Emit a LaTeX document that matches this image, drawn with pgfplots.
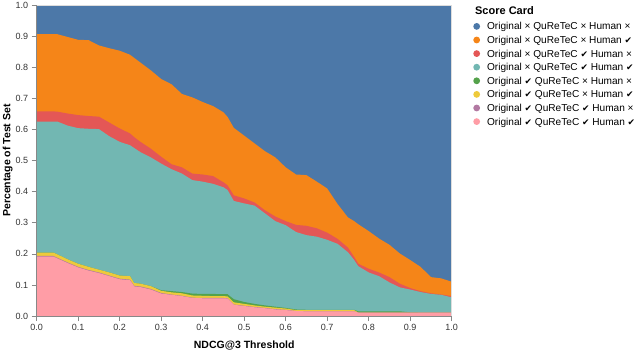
\documentclass[border=0pt]{standalone}
\usepackage{fontspec}
\setmainfont{Liberation Sans}
\newfontfamily\symfont[Scale=0.88]{DejaVu Sans}
\usepackage{pgfplots}
\pgfplotsset{compat=1.18}
\usepackage{pgfplotstable}
\definecolor{cBlue}{HTML}{4C78A8}
\definecolor{cOrange}{HTML}{F58518}
\definecolor{cRed}{HTML}{E45756}
\definecolor{cTeal}{HTML}{72B7B2}
\definecolor{cGreen}{HTML}{54A24B}
\definecolor{cYellow}{HTML}{EECA3B}
\definecolor{cPurple}{HTML}{B279A2}
\definecolor{cPink}{HTML}{FF9DA6}
\definecolor{cBorder}{HTML}{DDDDDD}
\definecolor{cAxis}{HTML}{888888}
\newcommand{\yes}{{\symfont ✔}}
\newcommand{\no}{×}
% cumulative tops of the stacked areas
\pgfplotstableread{
x     O     R     T     G     Y     P     K
0.000 0.906 0.658 0.625 0.204 0.204 0.193 0.191
0.025 0.906 0.658 0.625 0.204 0.204 0.193 0.191
0.040 0.906 0.658 0.625 0.204 0.204 0.193 0.191
0.050 0.906 0.657 0.625 0.198 0.198 0.187 0.185
0.075 0.897 0.651 0.612 0.182 0.182 0.172 0.170
0.100 0.888 0.646 0.604 0.168 0.168 0.158 0.156
0.125 0.887 0.643 0.602 0.158 0.158 0.148 0.146
0.150 0.870 0.641 0.601 0.149 0.149 0.140 0.138
0.175 0.861 0.622 0.578 0.140 0.140 0.130 0.128
0.200 0.853 0.603 0.560 0.130 0.130 0.120 0.118
0.225 0.840 0.587 0.549 0.128 0.128 0.117 0.115
0.235 0.830 0.575 0.540 0.106 0.106 0.097 0.095
0.250 0.815 0.560 0.527 0.104 0.104 0.095 0.093
0.275 0.790 0.538 0.510 0.096 0.096 0.087 0.085
0.300 0.762 0.512 0.490 0.083 0.081 0.074 0.072
0.325 0.745 0.488 0.472 0.080 0.076 0.069 0.068
0.350 0.714 0.478 0.458 0.077 0.073 0.065 0.064
0.375 0.703 0.458 0.437 0.072 0.066 0.059 0.058
0.400 0.688 0.455 0.432 0.071 0.065 0.058 0.057
0.425 0.675 0.450 0.425 0.071 0.064 0.058 0.057
0.450 0.655 0.430 0.414 0.070 0.064 0.058 0.057
0.460 0.640 0.420 0.405 0.070 0.063 0.057 0.056
0.475 0.605 0.388 0.370 0.054 0.044 0.037 0.036
0.500 0.580 0.378 0.362 0.045 0.039 0.033 0.032
0.525 0.555 0.365 0.355 0.039 0.034 0.029 0.028
0.550 0.530 0.340 0.330 0.034 0.030 0.026 0.025
0.575 0.510 0.320 0.305 0.030 0.027 0.022 0.021
0.600 0.478 0.305 0.292 0.026 0.024 0.020 0.019
0.625 0.455 0.293 0.270 0.021 0.019 0.016 0.016
0.650 0.453 0.290 0.260 0.020 0.019 0.015 0.015
0.675 0.432 0.282 0.255 0.020 0.019 0.015 0.015
0.700 0.410 0.268 0.245 0.020 0.019 0.015 0.015
0.725 0.360 0.248 0.232 0.020 0.019 0.015 0.015
0.750 0.317 0.220 0.205 0.020 0.019 0.015 0.015
0.765 0.305 0.190 0.180 0.020 0.019 0.015 0.015
0.775 0.295 0.168 0.160 0.015 0.011 0.011 0.011
0.800 0.273 0.152 0.140 0.015 0.011 0.011 0.011
0.825 0.249 0.140 0.128 0.015 0.011 0.011 0.011
0.850 0.229 0.125 0.108 0.015 0.011 0.011 0.011
0.875 0.201 0.104 0.092 0.015 0.011 0.011 0.011
0.900 0.180 0.090 0.085 0.012 0.011 0.011 0.011
0.925 0.158 0.080 0.077 0.011 0.011 0.011 0.011
0.950 0.125 0.073 0.071 0.011 0.011 0.011 0.011
0.975 0.121 0.069 0.068 0.011 0.011 0.011 0.011
1.000 0.110 0.064 0.060 0.011 0.011 0.011 0.011
}\scdata
\begin{document}
\begin{tikzpicture}
\begin{axis}[
  scale only axis, width=415pt, height=311pt,
  xmin=0, xmax=1, ymin=0, ymax=1,
  axis x line*=bottom, axis y line*=left,
  axis line style={draw=cAxis, line width=0.6pt},
  axis on top,
  clip=false,
  xtick={0,0.1,...,1.0}, ytick={0,0.1,...,1.0},
  tick align=outside, major tick length=5pt,
  tick style={draw=cAxis, line width=0.6pt},
  xticklabel style={/pgf/number format/.cd, fixed, fixed zerofill, precision=1, assume math mode=true},
  yticklabel style={/pgf/number format/.cd, fixed, fixed zerofill, precision=1, assume math mode=true},
  ticklabel style={font=\fontsize{9}{11}\selectfont, text=black!80},
  xlabel={\bfseries NDCG@3 Threshold},
  ylabel={\bfseries Percentage of Test Set},
  label style={font=\fontsize{10.5}{12}\selectfont},
  xlabel style={at={(axis description cs:0.5,-0.1029)}, anchor=base},
  ylabel style={at={(axis description cs:-0.0635,0.5)}, anchor=base},
  legend style={draw=none, fill=none, inner sep=0pt, outer sep=0pt,
    at={(axis description cs:1.052,0.946)}, anchor=north west,
    row sep=4.4pt, column sep=7pt,
    font=\fontsize{10.1}{12}\selectfont,
    nodes={inner sep=0pt, text height=8.2pt, text depth=1pt, anchor=west}},
  legend cell align=left,
  legend image code/.code={\fill[#1] (0pt,0pt) circle (3.4pt);},
]
\addplot[fill=cBlue, draw=none] coordinates {(0,1) (1,1)} \closedcycle;
\addlegendentry{Original \no{} QuReTeC \no{} Human \no}
\addplot[fill=cOrange, draw=none] table[x=x, y=O] {\scdata} \closedcycle;
\addlegendentry{Original \no{} QuReTeC \no{} Human \yes}
\addplot[fill=cRed, draw=none] table[x=x, y=R] {\scdata} \closedcycle;
\addlegendentry{Original \no{} QuReTeC \yes{} Human \no}
\addplot[fill=cTeal, draw=none] table[x=x, y=T] {\scdata} \closedcycle;
\addlegendentry{Original \no{} QuReTeC \yes{} Human \yes}
\addplot[fill=cGreen, draw=none] table[x=x, y=G] {\scdata} \closedcycle;
\addlegendentry{Original \yes{} QuReTeC \no{} Human \no}
\addplot[fill=cYellow, draw=none] table[x=x, y=Y] {\scdata} \closedcycle;
\addlegendentry{Original \yes{} QuReTeC \no{} Human \yes}
\addplot[fill=cPurple, draw=none] table[x=x, y=P] {\scdata} \closedcycle;
\addlegendentry{Original \yes{} QuReTeC \yes{} Human \no}
\addplot[fill=cPink, draw=none] table[x=x, y=K] {\scdata} \closedcycle;
\addlegendentry{Original \yes{} QuReTeC \yes{} Human \yes}
\draw[cBorder, line width=0.6pt] (rel axis cs:0,1) -- (rel axis cs:1,1) -- (rel axis cs:1,0);
\node[anchor=base west, font=\bfseries\fontsize{11}{13}\selectfont] at (axis description cs:1.048,0.971) {Score Card};
\end{axis}
\pgfresetboundingbox
\path (-36.7pt,-33pt) rectangle (603.3pt,316pt);
\end{tikzpicture}
\end{document}
